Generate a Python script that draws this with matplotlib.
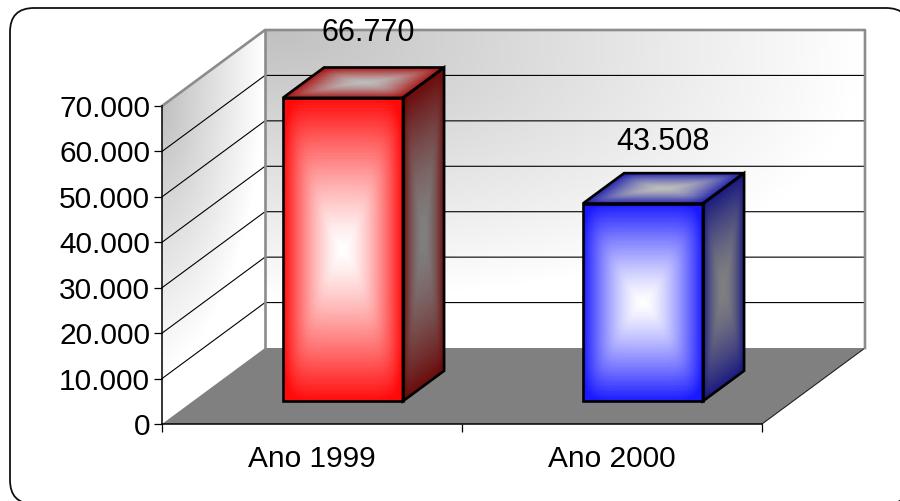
import numpy as np
import matplotlib
matplotlib.use('Agg')
import matplotlib.pyplot as plt
from matplotlib.patches import FancyBboxPatch, Polygon
from matplotlib.ticker import FuncFormatter

plt.rcParams['font.family'] = ['Liberation Sans', 'DejaVu Sans']

categories = ['Ano 1999', 'Ano 2000']
values = [66770, 43508]
y_ticks = [0, 10000, 20000, 30000, 40000, 50000, 60000, 70000]
y_max = 70000

# colours of each bar: front edge, side edge, top edge
front_cols = [(1.0, 0.04, 0.04), (0.1, 0.1, 1.0)]
side_cols = [(0.42, 0.04, 0.04), (0.10, 0.10, 0.50)]
top_cols = [(0.66, 0.08, 0.08), (0.14, 0.14, 0.68)]

# pixel offsets of the value labels from the top of each front face
label_off = [(25, 65), (20, 62)]

# oblique projection of the depth axis, in data units
depth_x = 103 / 300
depth_y = 76 / (318 / y_max)
bar_w = 0.4
bar_d0 = 0.30
bar_d1 = 0.70

fig = plt.figure(figsize=(9, 5.01), dpi=100)

# rounded frame behind the chart, running off the right and bottom
bg = fig.add_axes([0, 0, 1, 1])
bg.set_xlim(0, 900)
bg.set_ylim(501, 0)
bg.axis('off')
bg.add_patch(FancyBboxPatch((34, 32), 852, 448, boxstyle='round,pad=24',
                            fc='white', ec='#111111', lw=1.3))

ax = fig.add_axes([162 / 900, 1 - 424 / 501, 600 / 900, 318 / 501])
ax.patch.set_visible(False)


def face(org, e1, e2, func, n=120, z=1):
    # shaded parallelogram spanned by e1 and e2, func takes u, v in 0..1
    u = np.linspace(0, 1, n + 1)
    v = np.linspace(0, 1, n + 1)
    U, V = np.meshgrid(u, v)
    X = org[0] + U * e1[0] + V * e2[0]
    Y = org[1] + U * e1[1] + V * e2[1]
    uc = (u[:-1] + u[1:]) / 2
    vc = (v[:-1] + v[1:]) / 2
    Uc, Vc = np.meshgrid(uc, vc)
    C = np.clip(func(Uc, Vc), 0, 1)
    return ax.pcolormesh(X, Y, C, shading='flat', antialiased=False, linewidth=0,
                         zorder=z, clip_on=False)


def wall_shade(u, v):
    # darkest in the upper left corner, fading out towards the right and bottom
    w = (1 - v) / 0.85
    r = (u ** 2.5 + w ** 2.5) ** (1 / 2.5)
    g = 1 - 0.25 * np.clip(1 - r, 0, 1)
    return np.dstack([g, g, g])


def box_shade(edge, centre, pu, pv):
    edge = np.array(edge)
    centre = np.array(centre)

    def shade(u, v):
        a = np.abs(2 * u - 1) ** pu
        b = np.abs(2 * v - 1) ** pv
        # soft maximum keeps the centre from showing a sharp cross
        t = np.clip((a ** 5 + b ** 5) ** 0.2, 0, 1)[..., None]
        return centre + (edge - centre) * t
    return shade


# walls and floor
face((depth_x, depth_y), (2, 0), (0, y_max), wall_shade)
face((0, 0), (depth_x, depth_y), (0, y_max), wall_shade)
ax.add_patch(Polygon([(0, 0), (2, 0), (2 + depth_x, depth_y), (depth_x, depth_y)],
                     fc='#808080', ec='none', zorder=1.5, clip_on=False))
ax.plot([2, 2 + depth_x], [0, depth_y], color='#222222', lw=0.8, zorder=1.6, clip_on=False)

# gridlines running along both walls
for t in y_ticks[1:-1]:
    ax.plot([0, depth_x, 2 + depth_x], [t, t + depth_y, t + depth_y],
            color='black', lw=0.8, zorder=2, clip_on=False)

wall_edges = dict(color='#8c8c8c', lw=1.9, zorder=2.5, clip_on=False, solid_capstyle='projecting')
ax.plot([0, depth_x, 2 + depth_x, 2 + depth_x],
        [y_max, y_max + depth_y, y_max + depth_y, depth_y], **wall_edges)
ax.plot([depth_x, depth_x], [y_max + depth_y, depth_y], **wall_edges)

# bars
for i, val in enumerate(values):
    x0 = i + 0.5 - bar_w / 2 + bar_d0 * depth_x
    y0 = bar_d0 * depth_y
    x1 = x0 + bar_w
    dx = (bar_d1 - bar_d0) * depth_x
    dy = (bar_d1 - bar_d0) * depth_y
    face((x1, y0), (dx, dy), (0, val), box_shade(side_cols[i], (0.5, 0.5, 0.5), 1.8, 1.6), z=3)
    face((x0, y0 + val), (bar_w, 0), (dx, dy), box_shade(top_cols[i], (0.74, 0.74, 0.74), 1.8, 1.4), z=3)
    face((x0, y0), (bar_w, 0), (0, val), box_shade(front_cols[i], (1, 1, 1), 1.6, 1.3), z=3)
    outline = dict(fc='none', ec='black', lw=1.9, zorder=4, clip_on=False, joinstyle='miter')
    ax.add_patch(Polygon([(x0, y0), (x1, y0), (x1, y0 + val), (x0, y0 + val)], **outline))
    ax.add_patch(Polygon([(x1, y0), (x1 + dx, y0 + dy), (x1 + dx, y0 + dy + val), (x1, y0 + val)], **outline))
    ax.add_patch(Polygon([(x0, y0 + val), (x1, y0 + val), (x1 + dx, y0 + dy + val), (x0 + dx, y0 + dy + val)], **outline))
    ax.annotate(f'{val:,}'.replace(',', '.'), xy=(x0 + bar_w / 2, y0 + val),
                xytext=label_off[i], textcoords='offset pixels', ha='center', va='center',
                fontsize=22, color='black', zorder=5, annotation_clip=False)

ax.set_xlim(0, 2)
ax.set_ylim(0, y_max)
ax.set_yticks(y_ticks)
ax.yaxis.set_major_formatter(FuncFormatter(lambda v, p: f'{int(v):,}'.replace(',', '.')))
ax.set_xticks([0, 1, 2])
ax.set_xticklabels([])
ax.set_xticks([0.5, 1.5], minor=True)
ax.set_xticklabels(categories, minor=True)
ax.tick_params(axis='y', length=5.5, width=0.9, labelsize=21.5, pad=3)
ax.tick_params(axis='x', which='major', length=5.5, width=0.9)
ax.tick_params(axis='x', which='minor', length=0, labelsize=21.5, pad=15)
for s in ['top', 'right']:
    ax.spines[s].set_visible(False)
for s in ['left', 'bottom']:
    ax.spines[s].set_linewidth(1.1)
    ax.spines[s].set_zorder(6)

fig.savefig('out.png', dpi=100)
